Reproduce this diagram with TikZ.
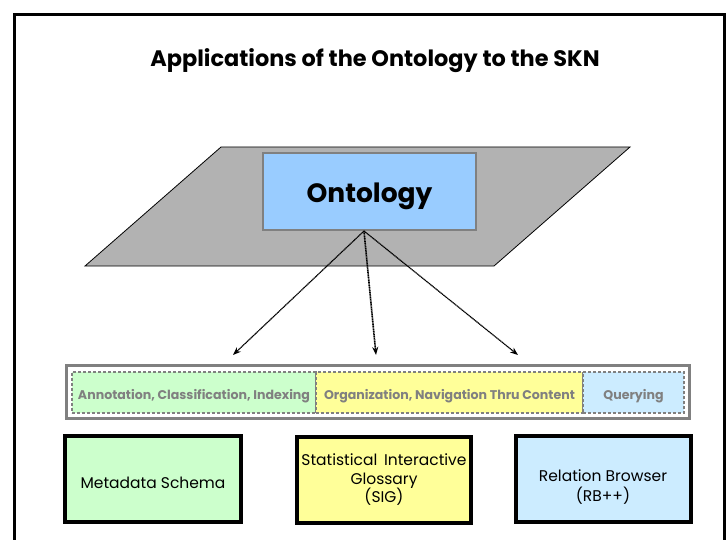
\documentclass[tikz,border=0pt]{standalone}
\usepackage{fontspec}
\setmainfont{Poppins}
\usetikzlibrary{arrows.meta}
\definecolor{lgreen}{HTML}{CCFFCC}
\definecolor{lyellow}{HTML}{FFFF99}
\definecolor{lblue}{HTML}{CCECFF}
\definecolor{ontblue}{HTML}{99CCFF}
\definecolor{plane}{HTML}{B2B2B2}
\definecolor{txtgray}{HTML}{808080}
\newcommand{\lowertext}[2]{\raisebox{0pt}[\dimexpr\height+#1\relax]{#2}}
\begin{document}
\begin{tikzpicture}[x=1pt,y=-1pt,
  bandcell/.style={draw=txtgray, line width=1.2pt, dash pattern=on 3pt off 2pt, minimum height=41pt, inner sep=0pt, text=txtgray, font=\fontsize{12.6}{14}\selectfont\bfseries},
  appbox/.style={draw=black, line width=4pt, minimum height=86pt, inner sep=0pt, align=center, font=\fontsize{15.5}{18.5}\selectfont},
  arr/.style={-{Stealth[length=8pt,width=6pt]}, line width=1.2pt, dash pattern=on 1.2pt off 0.5pt}]
\useasboundingbox (0,0) rectangle (728,540);
% frame
\draw[line width=3pt] (14.5,540) -- (14.5,14.5) -- (724.5,14.5) -- (724.5,540);
% title
\node (title) at (375,61) {\fontsize{22.4}{26}\selectfont\bfseries Applications of the Ontology to the SKN};
% plane
\draw[fill=plane, line width=0.8pt] (221,147) -- (630,147) -- (494,266) -- (85,266) -- cycle;
% ontology
\node[draw=txtgray, line width=1.5pt, fill=ontblue, minimum width=213pt, minimum height=77pt, inner sep=0pt,
  font=\fontsize{26.5}{30}\selectfont\bfseries] (onto) at (369.5,191.5) {\lowertext{9pt}{Ontology}};
% arrows
\coordinate (apex) at (364,231);
\coordinate (e1) at (233,355);
\coordinate (e2) at (376,355);
\coordinate (e3) at (518,355);
\draw[arr] (apex) -- (e1);
\draw[arr, line width=1.6pt] (apex) -- (e2);
\draw[arr] (apex) -- (e3);
% band
\node[draw=txtgray, line width=3pt, minimum width=623pt, minimum height=53pt, inner sep=0pt] (band) at (377.5,391.5) {};
\node[bandcell, fill=lgreen, minimum width=244pt] (b1) at (194,392.5) {\lowertext{7pt}{Annotation, Classification, Indexing}};
\node[bandcell, fill=lyellow, minimum width=267pt] (b2) at (449.5,392.5) {\lowertext{7pt}{Organization, Navigation Thru Content}};
\node[bandcell, fill=lblue, minimum width=101pt] (b3) at (633.5,392.5) {\lowertext{7pt}{Querying}};
% app boxes
\node[appbox, fill=lgreen, minimum width=176pt] (m1) at (153,479) {\lowertext{7pt}{Metadata Schema}};
\node[appbox, fill=lyellow, minimum width=174pt] (m2) at (384,480) {Statistical\, Interactive\\Glossary\\(SIG)};
\node[appbox, fill=lblue, minimum width=175pt] (m3) at (603,479) {\lowertext{17pt}{\begin{tabular}{@{}c@{}}Relation Browser\\(RB++)\end{tabular}}};
\end{tikzpicture}
\end{document}
